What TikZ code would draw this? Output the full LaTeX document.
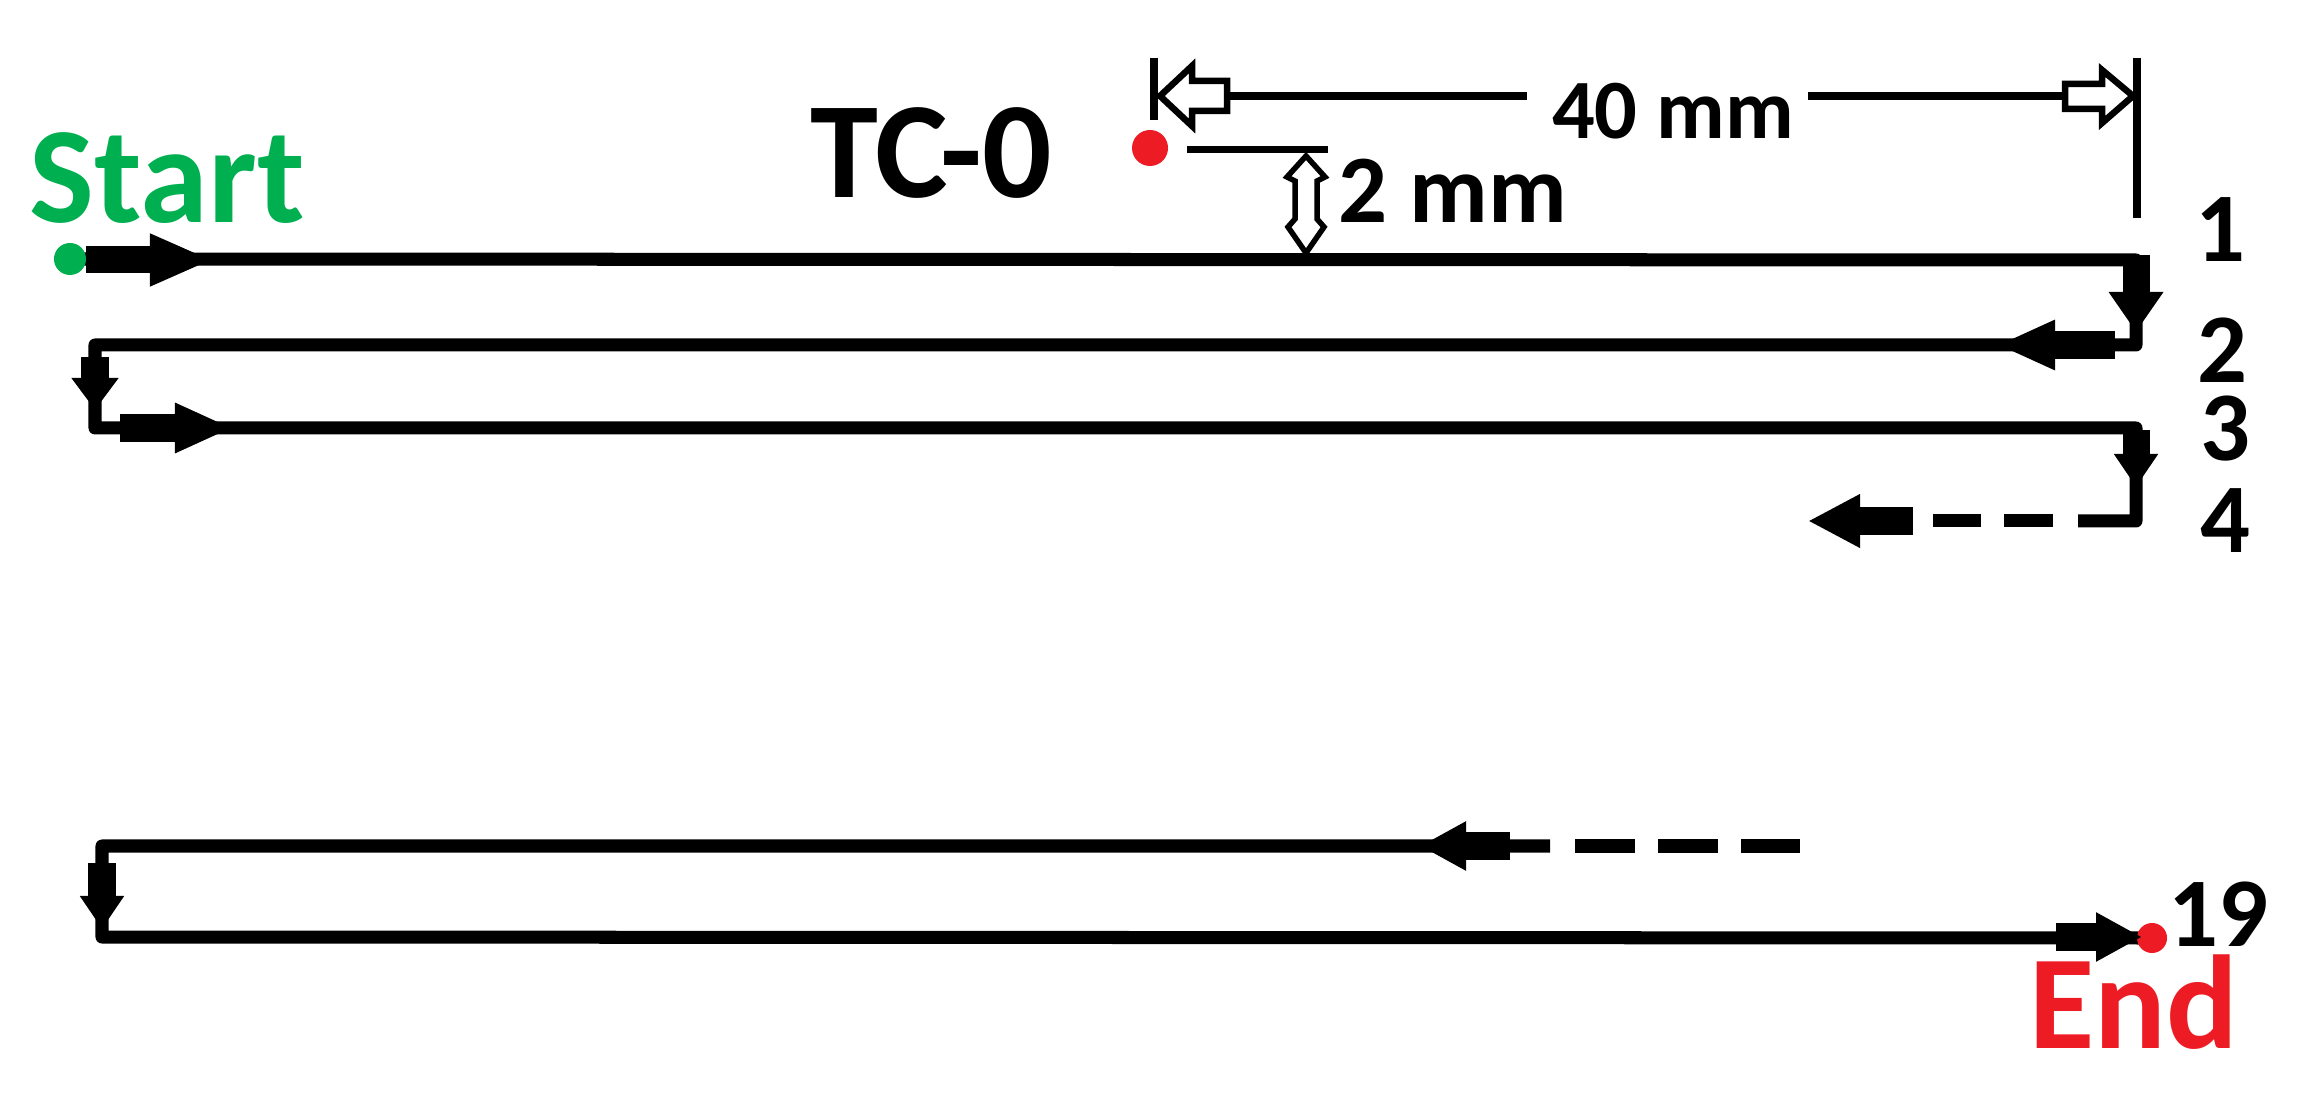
\documentclass[tikz,border=0pt]{standalone}
\usepackage{fontspec}
\setmainfont{Carlito}
\usetikzlibrary{arrows.meta,backgrounds}
\definecolor{stgreen}{RGB}{0,176,80}
\definecolor{endred}{RGB}{237,28,36}
\begin{document}
\begin{tikzpicture}[x=0.01cm,y=-0.01cm,
  trackline/.style={line width=0.13cm, line join=round},
  dashtrack/.style={line width=0.13cm, dash pattern=on #1 off 0.23cm},
  dimline/.style={line width=0.08cm},
  hollow/.style={fill=white, draw=black, line width=0.065cm, line join=miter},
  fatarrow/.style 2 args={line width=0.27cm, -{Triangle[length=#1,width=#2]}},
  dot/.style={circle, inner sep=0, minimum size=#1},
  lab/.style={font=\fontsize{28pt}{30pt}\selectfont\bfseries, inner sep=0, anchor=base},
  biglab/.style={font=\fontsize{39pt}{40pt}\selectfont\bfseries, inner sep=0, anchor=base},
  dimlab/.style={font=\fontsize{#1}{30pt}\selectfont\bfseries, inner sep=0, anchor=base}
]
\useasboundingbox (0,0) rectangle (2316,1104);

% dots
\node[dot=0.32cm, fill=stgreen] (start) at (70,259) {};
\node[dot=0.30cm, fill=endred] (end) at (2152,938) {};
\node[dot=0.36cm, fill=endred] (tc) at (1150,148) {};

% corners of the track
\coordinate (r1) at (2136,260);
\coordinate (r2) at (2136,345);
\coordinate (l2) at (95,345);
\coordinate (l3) at (95,428);
\coordinate (r3) at (2136,428);
\coordinate (r4) at (2136,521);
\coordinate (d4a) at (2078,521);
\coordinate (d4b) at (2053,521);
\coordinate (d4c) at (1933,521);
\coordinate (a0) at (1550,846);
\coordinate (la) at (102,846);
\coordinate (lb) at (102,937);
\coordinate (da1) at (1575,846);
\coordinate (da2) at (1800,846);

\begin{pgfonlayer}{background}
\draw[trackline] (start.center) -- (r1) -- (r2) -- (l2) -- (l3) -- (r3) -- (r4) -- (d4a);
\draw[dashtrack=0.49cm] (d4b) -- (d4c);
\draw[trackline] (a0) -- (la) -- (lb) -- (end.center);
\draw[dashtrack=0.6cm] (da1) -- (da2);
\end{pgfonlayer}

% direction arrows
\draw[fatarrow={0.63cm}{0.48cm}] (86,260) -- (213,260);
\draw[fatarrow={0.40cm}{0.52cm}] (2136,255) -- (2136,332);
\draw[fatarrow={0.58cm}{0.46cm}] (2115,345) -- (1997,345);
\draw[fatarrow={0.32cm}{0.45cm}] (95,357) -- (95,410);
\draw[fatarrow={0.58cm}{0.46cm}] (120,428) -- (233,428);
\draw[fatarrow={0.33cm}{0.42cm}] (2136,430) -- (2136,487);
\draw[fatarrow={0.52cm}{0.50cm}] (1913,521) -- (1808,521);
\draw[fatarrow={0.46cm}{0.46cm}] (1510,846) -- (1420,846);
\draw[fatarrow={0.33cm}{0.42cm}] (102,863) -- (102,929);
\draw[fatarrow={0.46cm}{0.46cm}] (2056,937) -- (2142,937);

% 40 mm dimension
\coordinate (b1t) at (1154,58);
\coordinate (b1b) at (1154,120);
\coordinate (b2t) at (2137,58);
\coordinate (b2b) at (2137,218);
\draw[dimline] (b1t) -- (b1b);
\draw[dimline] (b2t) -- (b2b);
\node[dimlab=24pt] (d40) at (1673,139) {40 mm};
\coordinate (h1) at (1227,96);
\coordinate (h2) at (2065,96);
\draw[dimline] (h1) -- (1527,96);
\draw[dimline] (1808,96) -- (h2);
\draw[hollow] (1160,96) -- (1192,66) -- (1192,81) -- (1227,81) -- (1227,111) -- (1192,111) -- (1192,126) -- cycle;
\draw[hollow] (2133,96) -- (2102,70) -- (2102,84) -- (2065,84) -- (2065,109) -- (2102,109) -- (2102,123) -- cycle;

% 2 mm dimension
\coordinate (tcl) at (1187,150);
\coordinate (tcr) at (1328,150);
\draw[line width=0.07cm] (tcl) -- (tcr);
\draw[hollow, line width=0.055cm] (1306,156) -- (1325,177) -- (1317,181) -- (1317,219) -- (1324,227) -- (1306,253) -- (1288,227) -- (1295,219) -- (1295,181) -- (1287,177) -- cycle;
\node[dimlab=27.5pt] (d2) at (1453,223) {2 mm};

% labels
\node[biglab, text=stgreen] (startlab) at (167,223) {Start};
\node[biglab] (tclab) at (931,198) {TC-0};
\node[biglab, font=\fontsize{38pt}{40pt}\selectfont\bfseries, text=endred] (endlab) at (2134,1048) {End};
\node[lab] (n1) at (2220,262) {1};
\node[lab] (n2) at (2222,383) {2};
\node[lab] (n3) at (2225,461) {3};
\node[lab] (n4) at (2225,553) {4};
\node[lab] (n19) at (2218,946) {19};
\end{tikzpicture}
\end{document}
